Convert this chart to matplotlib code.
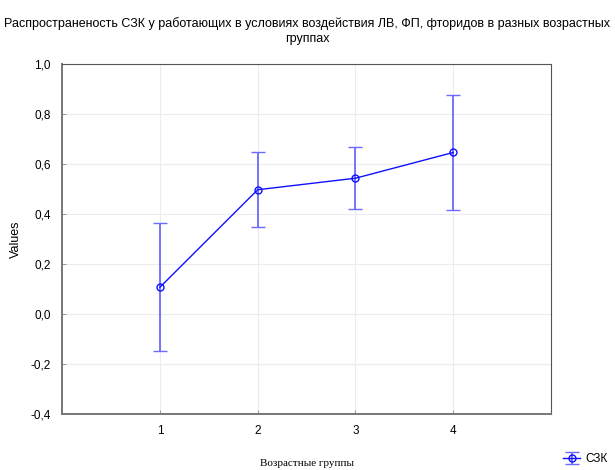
import matplotlib.pyplot as plt
import numpy as np
from matplotlib.ticker import FuncFormatter

# Данные: средние и доверительные интервалы по возрастным группам
groups = [1, 2, 3, 4]
means = [0.107, 0.497, 0.543, 0.646]
err = [0.256, 0.150, 0.124, 0.230]
series_name = "СЗК"
title = ("Распространеность СЗК у работающих в условиях воздействия ЛВ, ФП, фторидов в разных возрастных\n"
         "группах")
yticks = [-0.4, -0.2, 0.0, 0.2, 0.4, 0.6, 0.8, 1.0]

fig = plt.figure(figsize=(6.15, 4.7), dpi=100)
fig.patch.set_facecolor("white")
ax = fig.add_axes([0.101, 0.119, 0.795, 0.745])

ax.errorbar(groups, means, yerr=err, color="#1010ff", lw=1.0,
            marker="o", ms=5, mfc="none", mec="#1010ff", mew=1.0,
            ecolor="#6b6bff", elinewidth=1.3, capsize=5, capthick=1.3,
            label=series_name)

ax.set_xlim(0, 5)
ax.set_ylim(-0.4, 1.0)
ax.set_xticks(groups)
ax.set_yticks(yticks)
ax.yaxis.set_major_formatter(FuncFormatter(lambda v, _: f"{v:.1f}".replace(".", ",")))
ax.grid(True, color="#ececf0", lw=0.8)
ax.set_axisbelow(True)
ax.tick_params(direction="in", length=3, width=0.6, colors="#888888",
               labelcolor="black", labelsize=8.5, pad=8)
for s in ax.spines.values():
    s.set_color("#555555")
    s.set_linewidth(0.8)
ax.spines["left"].set_linewidth(1.4)
ax.spines["left"].set_color("#777777")
ax.spines["bottom"].set_linewidth(1.4)
ax.spines["bottom"].set_color("#777777")

for lab in ax.get_xticklabels() + ax.get_yticklabels():
    lab.set_family("Liberation Sans")

ax.set_ylabel("Values", fontsize=9, family="Liberation Sans", labelpad=6)
fig.text(0.5, 0.004, "Возрастные группы", ha="center", va="bottom",
         fontsize=8, family="Liberation Serif")
fig.suptitle(title, fontsize=9, family="Liberation Sans", y=0.963,
             linespacing=1.25)

ax.legend(loc="lower right", bbox_to_anchor=(1.005, -0.012), bbox_transform=fig.transFigure,
          frameon=False, handlelength=1.5, handletextpad=0.4,
          prop={"family": "Liberation Sans", "size": 8.5})

fig.savefig("out.png", dpi=100)
